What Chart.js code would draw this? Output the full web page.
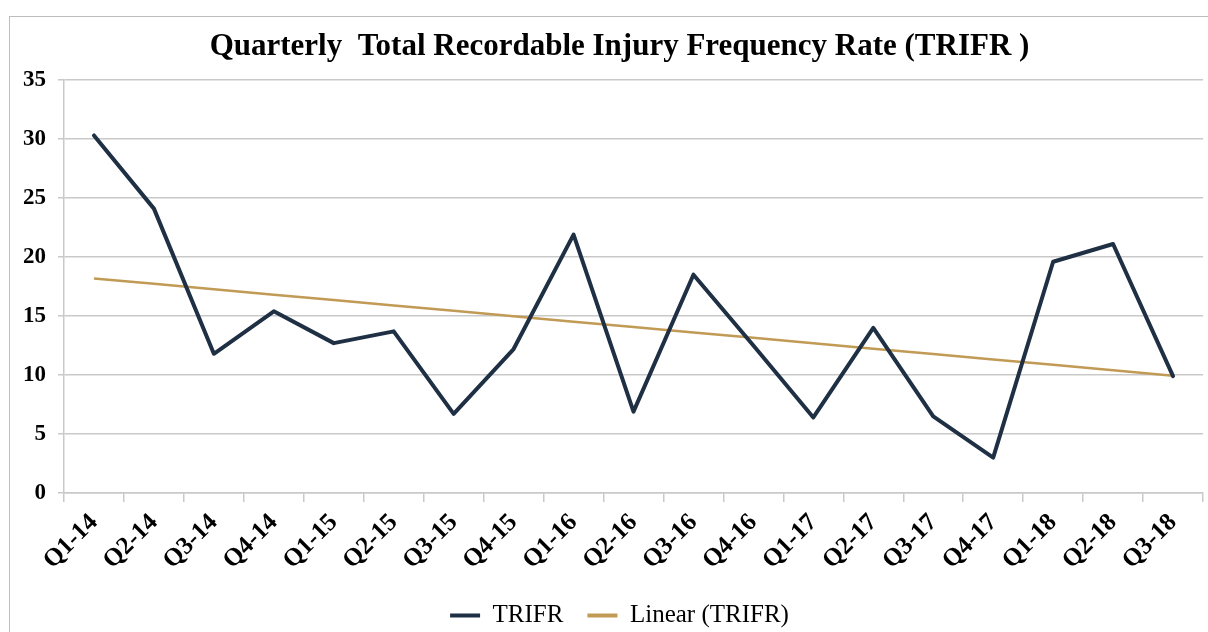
<!DOCTYPE html>
<html>
<head>
<meta charset="utf-8">
<script src="https://cdn.jsdelivr.net/npm/chart.js@4.4.0/dist/chart.umd.min.js"></script>
<style>
  html, body { margin: 0; padding: 0; background: #fff; }
  #wrap { position: relative; width: 1208px; height: 632px; overflow: hidden; }
  #frame { position: absolute; left: 9px; top: 16px; width: 1300px; height: 700px;
           border-left: 1px solid #bdbdbd; border-top: 1px solid #bdbdbd; box-sizing: border-box; }
  canvas { position: absolute; left: 0; top: 0; }
</style>
</head>
<body>
<div id="wrap">
  <div id="frame"></div>
  <canvas id="c" width="1208" height="632"></canvas>
</div>
<script>
const categories = ["Q1-14","Q2-14","Q3-14","Q4-14","Q1-15","Q2-15","Q3-15","Q4-15","Q1-16","Q2-16","Q3-16","Q4-16","Q1-17","Q2-17","Q3-17","Q4-17","Q1-18","Q2-18","Q3-18"];
const trifrValues = [30.3, 24.1, 11.8, 15.4, 12.7, 13.7, 6.7, 12.2, 21.9, 6.9, 18.5, 12.5, 6.4, 14.0, 6.5, 3.0, 19.6, 21.1, 9.9];
const yTicks = [0, 5, 10, 15, 20, 25, 30, 35];
const titleText = "Quarterly  Total Recordable Injury Frequency Rate (TRIFR )";
const seriesNames = ["TRIFR", "Linear (TRIFR)"];

// Linear (least-squares) trendline of the TRIFR series, as in the original chart
function linearTrend(values) {
  const n = values.length;
  let sx = 0, sy = 0, sxy = 0, sxx = 0;
  values.forEach((v, i) => { sx += i; sy += v; sxy += i * v; sxx += i * i; });
  const slope = (n * sxy - sx * sy) / (n * sxx - sx * sx);
  const icpt = (sy - slope * sx) / n;
  return values.map((_, i) => icpt + slope * i);
}
const trendValues = linearTrend(trifrValues);

const serif = "'Liberation Serif', 'Times New Roman', serif";
const gridColor = '#c9c9c9';

// Centre the title and legend over the frame (which starts at the left border), like the original
const centreShift = {
  id: 'centreShift',
  afterLayout(chart) {
    const shift = 18;
    [chart.titleBlock, chart.legend].forEach(b => { if (b) { b.left += shift; b.right += shift; } });
  }
};

new Chart(document.getElementById('c'), {
  type: 'line',
  data: {
    labels: categories,
    datasets: [
      { label: seriesNames[0], data: trifrValues, borderColor: '#1f3044', backgroundColor: '#1f3044',
        borderWidth: 4, pointRadius: 0, tension: 0, borderJoinStyle: 'round', borderCapStyle: 'round' },
      { label: seriesNames[1], data: trendValues, borderColor: '#c19a55', backgroundColor: '#c19a55',
        borderWidth: 2.5, pointRadius: 0, tension: 0 }
    ]
  },
  plugins: [centreShift],
  options: {
    responsive: false,
    animation: false,
    layout: { padding: { left: 0, right: 5, top: 0, bottom: -6 } },
    plugins: {
      title: {
        display: true, text: titleText, color: '#000',
        font: { family: serif, size: 31, weight: 'bold' },
        padding: { top: 28, bottom: 14.8 }
      },
      legend: {
        display: true, position: 'bottom',
        labels: {
          color: '#000', font: { family: serif, size: 25 },
          boxWidth: 30, boxHeight: 4, padding: 24,
          generateLabels(chart) {
            const items = Chart.defaults.plugins.legend.labels.generateLabels(chart);
            items.forEach((it, i) => {
              it.fillStyle = chart.data.datasets[i].borderColor;
              it.strokeStyle = chart.data.datasets[i].borderColor;
              it.lineWidth = 0;
            });
            return items;
          }
        }
      },
      tooltip: { enabled: false }
    },
    scales: {
      x: {
        offset: true,
        grid: { offset: true, drawOnChartArea: false, drawTicks: true, tickLength: 9, color: gridColor, lineWidth: 1.5 },
        border: { color: gridColor, width: 1.5 },
        ticks: { color: '#000', font: { family: serif, size: 25, weight: 'bold' }, minRotation: 45, maxRotation: 45, autoSkip: false, padding: 6 },
        afterFit(scale) { scale.height = 86; }
      },
      y: {
        min: 0, max: 35,
        afterBuildTicks(scale) { scale.ticks = yTicks.map(v => ({ value: v })); },
        grid: { color: gridColor, lineWidth: 1.5, tickLength: 6 },
        border: { color: gridColor, width: 1.5 },
        ticks: { color: '#000', font: { family: serif, size: 23, weight: 'bold' }, padding: 12 },
        afterFit(scale) { scale.width = 64; }
      }
    }
  }
});
</script>
</body>
</html>
